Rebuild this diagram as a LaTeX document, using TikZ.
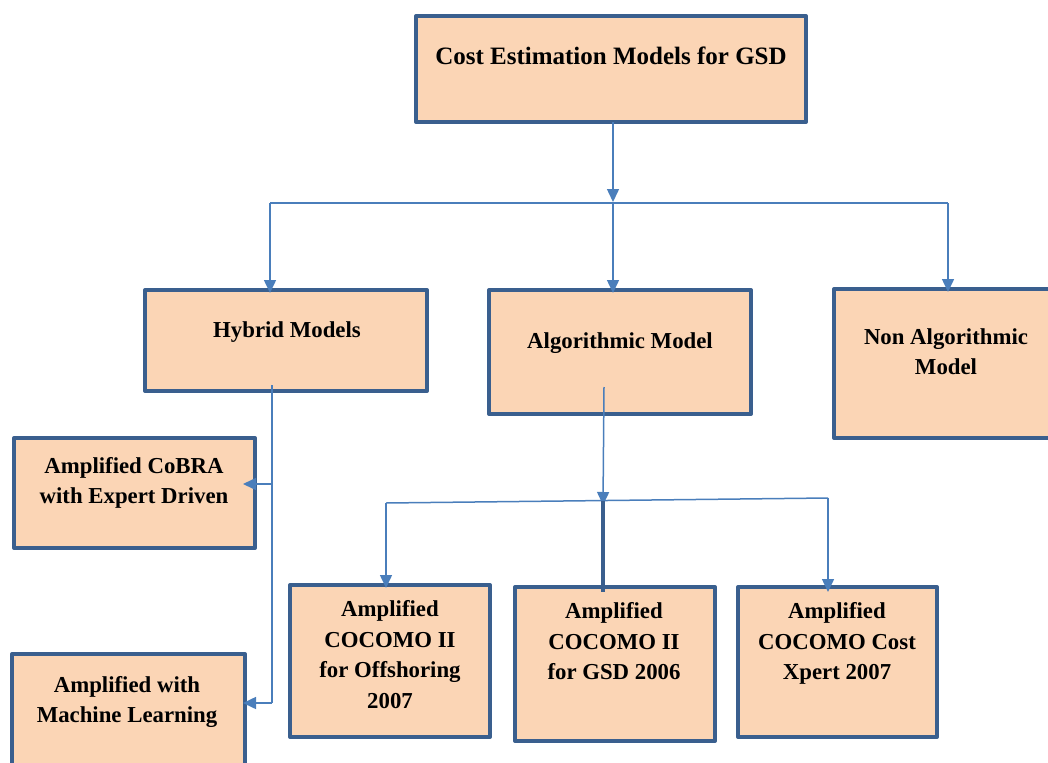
\documentclass[tikz,border=0pt]{standalone}
\usepackage{fontspec}
\setmainfont{Liberation Serif}
\usetikzlibrary{arrows.meta}
\definecolor{boxfill}{HTML}{FBD5B5}
\definecolor{boxline}{HTML}{3A5F8E}
\definecolor{conn}{HTML}{4A7EBB}
\tikzset{
  box/.style={draw=boxline, fill=boxfill, line width=4pt, rectangle, inner sep=0pt, outer sep=0pt, anchor=north west, line join=round},
  txt/.style={font=\bfseries\fontsize{22.8}{30.5}\selectfont, align=center, inner sep=0pt, text=black},
  ttl/.style={font=\bfseries\fontsize{25}{30}\selectfont, inner sep=0pt, text=black, anchor=base},
  link/.style={draw=conn, line width=1.5pt},
  arr/.style={link, -{Triangle[length=13pt,width=12pt]}},
  thick link/.style={draw=boxline, line width=4pt}
}
\begin{document}
\begin{tikzpicture}[x=1pt,y=-1pt]
\useasboundingbox (0,0) rectangle (1048,762);
% boxes
\node[box, minimum width=390pt, minimum height=106pt] (top) at (416,16) {};
\node[box, minimum width=282pt, minimum height=101pt] (hyb) at (145,290) {};
\node[box, minimum width=262pt, minimum height=124pt] (alg) at (489,290) {};
\node[box, minimum width=260pt, minimum height=149pt] (non) at (834,289) {};
\node[box, minimum width=241pt, minimum height=110pt] (cob) at (14,438) {};
\node[box, minimum width=233pt, minimum height=140pt] (ml) at (12,654) {};
\node[box, minimum width=200pt, minimum height=152pt] (b1) at (290,585) {};
\node[box, minimum width=200pt, minimum height=154pt] (b2) at (515,587) {};
\node[box, minimum width=199pt, minimum height=150pt] (b3) at (738,587) {};
% texts
\node[ttl] (ttop) at (611,65) {Cost Estimation Models for GSD};
\node[txt, anchor=base] (thyb) at (287,337) {Hybrid Models};
\node[txt, anchor=base] (talg) at (620,348) {Algorithmic Model};
\node[txt, anchor=north] (tnon) at (946,328) {Non Algorithmic\\Model};
\node[txt, anchor=north] (tcob) at (134,457) {Amplified CoBRA\\with Expert Driven};
\node[txt, anchor=north] (tml) at (127,676) {Amplified with\\Machine Learning};
\node[txt, anchor=north] (tb1) at (390,600.3) {Amplified\\COCOMO II\\for Offshoring\\2007};
\node[txt, anchor=north] (tb2) at (614,602.3) {Amplified\\COCOMO II\\for GSD 2006};
\node[txt, anchor=north] (tb3) at (837,602.3) {Amplified\\COCOMO Cost\\Xpert 2007};
% junction coordinates
\coordinate (j0) at (613,203);
\coordinate (jl) at (270,203);
\coordinate (jr) at (948,203);
\coordinate (h0) at (272,385);
\coordinate (h1) at (272,484);
\coordinate (h2) at (272,703);
\coordinate (a0) at (604,387);
\coordinate (a1) at (603,501);
\coordinate (al) at (386,503);
\coordinate (ar) at (828,498);
% connectors
\draw[arr] (j0 |- top.south) -- ([yshift=1pt]j0);
\draw[link] (jl) -- (jr);
\draw[arr] (jl) -- ([yshift=-3pt]jl |- hyb.north);
\draw[arr] (j0) -- ([yshift=-3pt]j0 |- alg.north);
\draw[arr] (jr) -- ([yshift=-3pt]jr |- non.north);
\draw[link] (h0) -- (h2);
\draw[arr] (h1) -- ([xshift=-12pt]h1 -| cob.east);
\draw[arr] (h2) -- ([xshift=-2pt]h2 -| ml.east);
\draw[arr] (a0) -- ([yshift=-4pt]a1);
\draw[link] (al) -- (ar);
\draw[arr] (al) -- ([yshift=-3pt]al |- b1.north);
\draw[arr] (ar) -- ([yshift=-5pt]ar |- b3.north);
\draw[thick link] (a1) -- ([yshift=-5pt]a1 |- b2.north);
\end{tikzpicture}
\end{document}
